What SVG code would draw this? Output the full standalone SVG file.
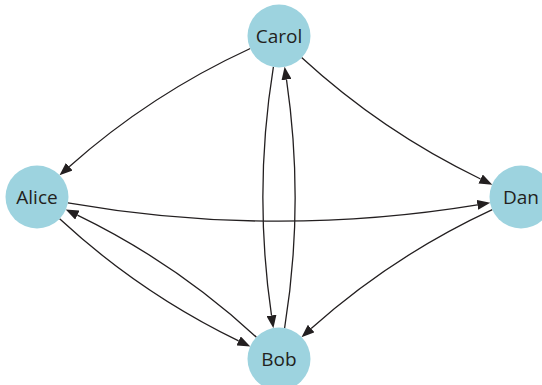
<svg xmlns="http://www.w3.org/2000/svg" width="542" height="385" viewBox="0 0 542 385">
  <style>
    .node circle { fill: #9dd3df; }
    .node text { font-family: "Open Sans", "Noto Sans", sans-serif; font-size: 19px; fill: #231f20; text-anchor: middle; }
    .edge { fill: none; stroke: #231f20; stroke-width: 1.3; marker-end: url(#arrow); }
  </style>
  <defs>
    <marker id="arrow" markerUnits="userSpaceOnUse" markerWidth="13" markerHeight="10" viewBox="0 0 13 10" refX="0" refY="5" orient="auto">
      <path d="M0,0 L13,5 L0,10 z" fill="#231f20"/>
    </marker>
  </defs>

  <!-- curved directed edges, each trimmed to the node rims -->
  <g id="edges">
    <path class="edge" id="carol-alice" d="M250.3,48.5 Q150.8,94.2 69.2,166.7"/>
    <path class="edge" id="carol-dan" d="M301.6,57.6 Q382.2,131.7 480.6,179.0"/>
    <path class="edge" id="alice-dan" d="M67.9,202.8 Q272.6,238.5 477.4,204.9"/>
    <path class="edge" id="alice-bob" d="M59.6,218.8 Q140.1,293.2 238.6,340.9"/>
    <path class="edge" id="bob-alice" d="M256.4,337.2 Q175.9,262.8 77.4,215.1"/>
    <path class="edge" id="carol-bob" d="M273.4,66.9 Q253.3,191.1 271.5,315.4"/>
    <path class="edge" id="bob-carol" d="M284.6,328.1 Q304.7,203.9 286.5,79.6"/>
    <path class="edge" id="dan-bob" d="M492.3,209.6 Q392.8,255.7 311.2,328.5"/>
  </g>

  <g id="carol" class="node">
    <circle cx="279" cy="36" r="31.5"/>
    <text x="279" y="42.5">Carol</text>
  </g>
  <g id="alice" class="node">
    <circle cx="37" cy="197" r="31.5"/>
    <text x="37" y="203.5">Alice</text>
  </g>
  <g id="dan" class="node">
    <circle cx="521" cy="197" r="31.5"/>
    <text x="521" y="203.5">Dan</text>
  </g>
  <g id="bob" class="node">
    <circle cx="279" cy="359" r="31.5"/>
    <text x="279" y="365.5">Bob</text>
  </g>
</svg>
